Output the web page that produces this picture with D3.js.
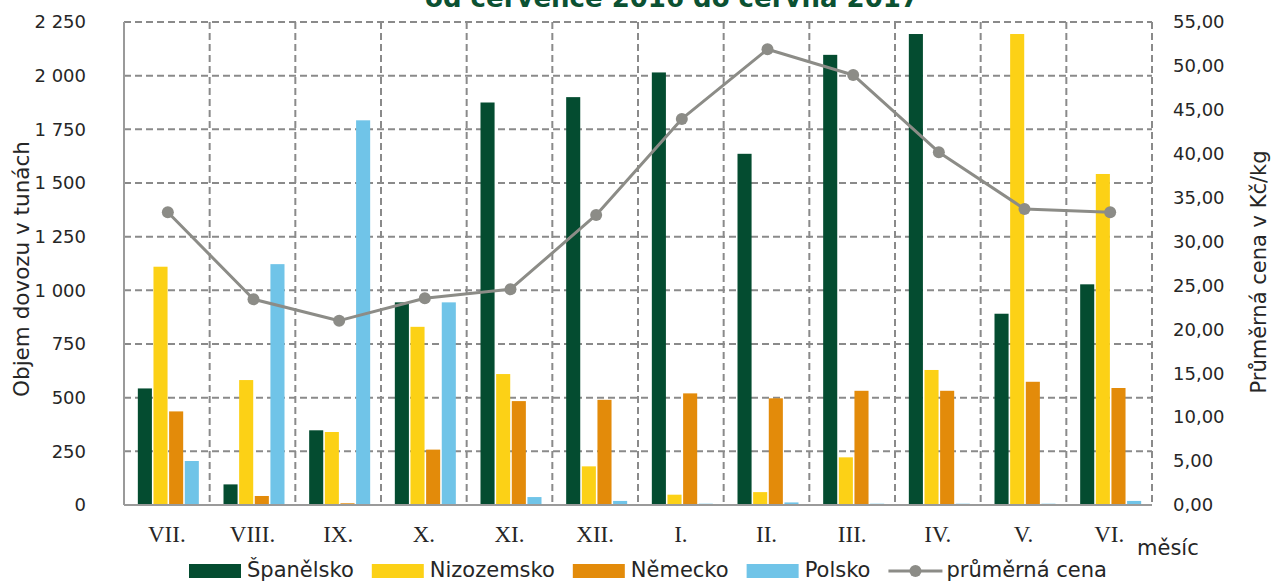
<!DOCTYPE html>
<html>
<head>
<meta charset="utf-8">
<script src="https://cdn.jsdelivr.net/npm/d3@7"></script>
<style>
  html, body { margin: 0; padding: 0; background: #fff; }
  svg { display: block; }
  text { font-family: "DejaVu Sans", Verdana, sans-serif; fill: #262626; }
</style>
</head>
<body>
<div id="chart"></div>
<script>
// months (categories)
const months = ['VII.', 'VIII.', 'IX.', 'X.', 'XI.', 'XII.', 'I.', 'II.', 'III.', 'IV.', 'V.', 'VI.'];
const countries = ['Španělsko', 'Nizozemsko', 'Německo', 'Polsko'];

// import volumes in tonnes
const spanelsko  = [543, 96, 348, 944, 1875, 1900, 2015, 1636, 2097, 2194, 891, 1028];
const nizozemsko = [1110, 582, 340, 830, 610, 180, 48, 60, 222, 629, 2194, 1542];
const nemecko    = [436, 42, 8, 258, 484, 490, 520, 497, 532, 532, 574, 545];
const polsko     = [205, 1122, 1792, 944, 37, 19, 6, 12, 6, 6, 6, 19];

// average price Kč/kg
const cena = [33.33, 23.43, 20.99, 23.54, 24.57, 33.03, 43.96, 51.9, 48.97, 40.17, 33.71, 33.33];

const leftTicks = [0, 250, 500, 750, 1000, 1250, 1500, 1750, 2000, 2250];
const rightTicks = [0, 5, 10, 15, 20, 25, 30, 35, 40, 45, 50, 55];

const colors = ['#044c30', '#fcd116', '#e38b0a', '#70c4e8'];
const lineColor = '#8c8c87';
const gridColor = '#8a8a8a';

const W = 1272, H = 581;
const margin = { top: 22, right: 120, bottom: 76, left: 124 };
const width = W - margin.left - margin.right;   // 1028
const height = H - margin.top - margin.bottom;  // 483

const cz = d3.formatLocale({ decimal: ',', thousands: ' ', grouping: [3], currency: ['', ' Kč'] });
const fmtLeft = cz.format(',d');
const fmtRight = cz.format('.2f');

const series = [spanelsko, nizozemsko, nemecko, polsko];
const data = months.map((m, i) => ({
  month: m,
  values: countries.map((c, j) => ({ key: c, value: series[j][i] })),
  price: cena[i]
}));

const svg = d3.select('#chart').append('svg').attr('width', W).attr('height', H);
const g = svg.append('g').attr('transform', 'translate(' + margin.left + ',' + margin.top + ')');

// scales
const x0 = d3.scaleBand().domain(months).range([0, width]);
const groupW = 61;
const x1 = d3.scaleBand().domain(countries).range([0, groupW]).paddingInner(0.1);
const y = d3.scaleLinear().domain([0, 2250]).range([height, 0]);
const y2 = d3.scaleLinear().domain([0, 55]).range([height, 0]);
const groupOffset = (x0.bandwidth() - groupW) / 2 + 1.5;

// grid: horizontal dashed
g.append('g').selectAll('line').data(leftTicks.filter(d => d > 0)).enter().append('line')
  .attr('x1', 0).attr('x2', width)
  .attr('y1', d => y(d)).attr('y2', d => y(d))
  .attr('stroke', gridColor).attr('stroke-width', 2).attr('stroke-dasharray', '7,4');

// grid: vertical dashed at category boundaries
g.append('g').selectAll('line').data(months).enter().append('line')
  .attr('x1', d => x0(d) + x0.bandwidth()).attr('x2', d => x0(d) + x0.bandwidth())
  .attr('y1', 0).attr('y2', height)
  .attr('stroke', gridColor).attr('stroke-width', 2).attr('stroke-dasharray', '7,4');

// bars
const groups = g.append('g').selectAll('g').data(data).enter().append('g')
  .attr('transform', d => 'translate(' + (x0(d.month) + groupOffset) + ',0)');
groups.selectAll('rect').data(d => d.values).enter().append('rect')
  .attr('x', d => x1(d.key))
  .attr('width', x1.bandwidth())
  .attr('y', d => y(d.value))
  .attr('height', d => height - y(d.value))
  .attr('fill', (d, i) => colors[i]);

// axis lines (left and bottom solid)
g.append('line').attr('x1', 0).attr('x2', 0).attr('y1', 0).attr('y2', height)
  .attr('stroke', '#9a9a9a').attr('stroke-width', 2);
g.append('line').attr('x1', 0).attr('x2', width).attr('y1', height).attr('y2', height)
  .attr('stroke', '#9a9a9a').attr('stroke-width', 2);

// price line
const line = d3.line()
  .x(d => x0(d.month) + x0.bandwidth() / 2 + 1)
  .y(d => y2(d.price));
g.append('path').datum(data)
  .attr('fill', 'none').attr('stroke', lineColor).attr('stroke-width', 3)
  .attr('stroke-linejoin', 'round')
  .attr('d', line);
g.append('g').selectAll('circle').data(data).enter().append('circle')
  .attr('cx', d => x0(d.month) + x0.bandwidth() / 2 + 1)
  .attr('cy', d => y2(d.price))
  .attr('r', 6)
  .attr('fill', lineColor);

// left axis
const yAxis = d3.axisLeft(y).tickValues(leftTicks).tickFormat(fmtLeft).tickSize(0).tickPadding(38);
const ya = g.append('g').call(yAxis);
ya.select('.domain').remove();
ya.selectAll('text').style('font-family', '"DejaVu Sans", Verdana, sans-serif').style('font-size', '18px').attr('fill', '#262626');

// right axis
const y2Axis = d3.axisRight(y2).tickValues(rightTicks).tickFormat(fmtRight).tickSize(0).tickPadding(21);
const y2a = g.append('g').attr('transform', 'translate(' + width + ',0)').call(y2Axis);
y2a.select('.domain').remove();
y2a.selectAll('text').style('font-family', '"DejaVu Sans", Verdana, sans-serif').style('font-size', '18px').attr('fill', '#262626');

// x axis
const xAxis = d3.axisBottom(x0).tickSize(0).tickPadding(21);
const xa = g.append('g').attr('transform', 'translate(0,' + height + ')').call(xAxis);
xa.select('.domain').remove();
xa.selectAll('text').style('font-family', '"Liberation Serif", "Times New Roman", serif').style('font-size', '23px').attr('fill', '#262626');

// axis titles
svg.append('text')
  .attr('transform', 'translate(29,269) rotate(-90)')
  .attr('text-anchor', 'middle')
  .style('font-size', '21.5px')
  .text('Objem dovozu v tunách');
svg.append('text')
  .attr('transform', 'translate(1266,272) rotate(-90)')
  .attr('text-anchor', 'middle')
  .style('font-size', '21px')
  .text('Průměrná cena v Kč/kg');
svg.append('text')
  .attr('x', 1137).attr('y', 555)
  .style('font-size', '21px')
  .text('měsíc');

// title (top line clipped by the frame)
svg.append('text')
  .attr('x', 672).attr('y', 7)
  .attr('text-anchor', 'middle')
  .style('font-size', '26px').style('font-weight', 'bold')
  .style('fill', '#0b5132')
  .text('od července 2016 do června 2017');

// legend
const legend = svg.append('g').attr('transform', 'translate(189,0)');
let lx = 0;
const legendItems = countries.map((c, i) => ({ label: c, type: 'bar', color: colors[i] }))
  .concat([{ label: 'průměrná cena', type: 'line', color: lineColor }]);
legendItems.forEach(item => {
  const it = legend.append('g').attr('transform', 'translate(' + lx + ',0)');
  if (item.type === 'bar') {
    it.append('rect').attr('x', 0).attr('y', 564).attr('width', 52).attr('height', 14).attr('fill', item.color);
  } else {
    it.append('line').attr('x1', 0).attr('x2', 54).attr('y1', 571).attr('y2', 571)
      .attr('stroke', item.color).attr('stroke-width', 3);
    it.append('circle').attr('cx', 27).attr('cy', 571).attr('r', 6).attr('fill', item.color);
  }
  const t = it.append('text').attr('x', 58).attr('y', 577).style('font-size', '21px').text(item.label);
  lx += 58 + t.node().getComputedTextLength() + 18;
});
</script>
</body>
</html>
